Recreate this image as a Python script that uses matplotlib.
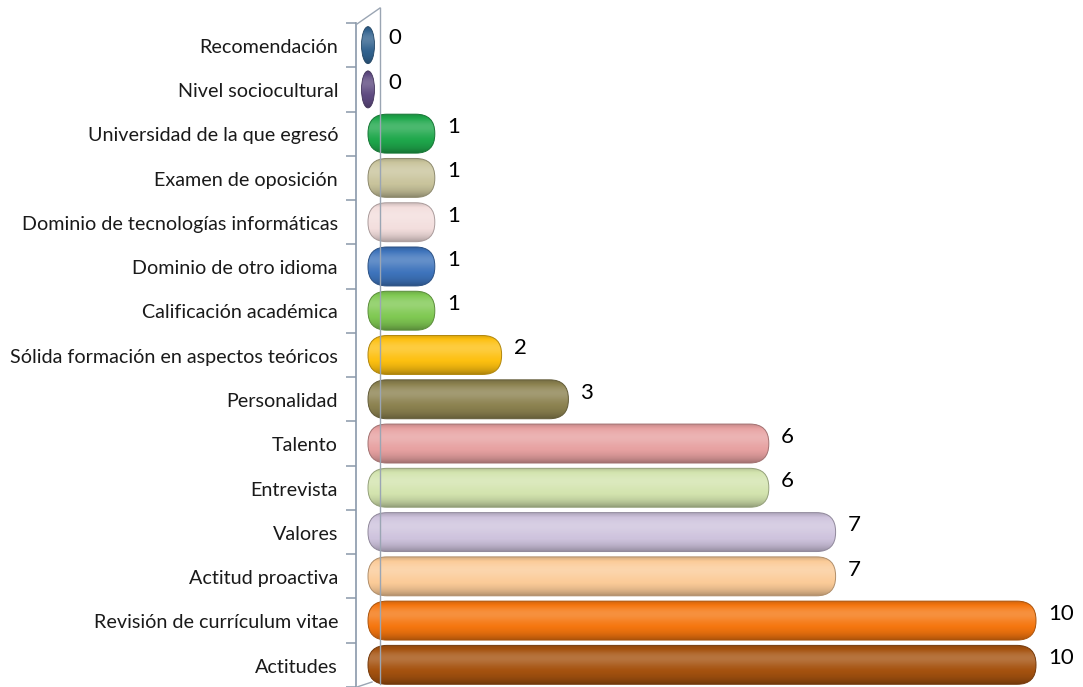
import numpy as np
import matplotlib
matplotlib.use("Agg")
import matplotlib.pyplot as plt
from matplotlib.patches import FancyBboxPatch, Ellipse
from matplotlib.lines import Line2D
from matplotlib.colors import to_rgb

categories = ["Recomendación", "Nivel sociocultural", "Universidad de la que egresó",
              "Examen de oposición", "Dominio de tecnologías informáticas",
              "Dominio de otro idioma", "Calificación académica",
              "Sólida formación en aspectos teóricos", "Personalidad", "Talento",
              "Entrevista", "Valores", "Actitud proactiva",
              "Revisión de currículum vitae", "Actitudes"]
values = [0, 0, 1, 1, 1, 1, 1, 2, 3, 6, 6, 7, 7, 10, 10]
colors = ["#31628E", "#5E4A80", "#1FA84C", "#C9C49C", "#F3DEDD", "#3E74BC",
          "#80C953", "#FDC010", "#8C8250", "#E7A1A1", "#D3E4AE", "#CEC3DD",
          "#FBCB98", "#F5760F", "#A5520F"]

W, H = 1083, 687
fig = plt.figure(figsize=(W / 100, H / 100), dpi=100)
zero_px, x_end_px = 368, 1083
px_x = 66.8
xmin = -8 / px_x
xmax = (x_end_px - zero_px) / px_x
ax = fig.add_axes([(zero_px - 8) / W, 0, (x_end_px - zero_px + 8) / W, 664 / H])
n = len(categories)
ax.set_xlim(xmin, xmax)
ax.set_ylim(n - 0.5, -0.5)
for s in ["top", "right", "bottom"]:
    ax.spines[s].set_visible(False)
ax.spines["left"].set_position(("outward", 3))
ax.spines["left"].set_color("#8A98AA")
ax.spines["left"].set_linewidth(1.2)
ax.set_xticks([])
ax.set_yticks(np.arange(-0.5, n, 1.0))
ax.set_yticklabels([])
ax.tick_params(axis="y", length=7, color="#8A98AA", width=1.1, direction="out")

px_y = 664 / n
bar_h = 0.88
r_px = 19
aspect = px_x / px_y
fam = ["Lato", "DejaVu Sans"]


def shade(c, t):
    base = np.array(to_rgb(c))
    f = 0.2 * np.exp(-((t - 0.32) / 0.22) ** 2) - 0.3 * (np.abs(t - 0.45) / 0.55) ** 3
    out = np.where(f[:, None] > 0, base + (1 - base) * f[:, None], base * (1 + f[:, None]))
    return np.clip(out, 0, 1)


t = np.linspace(0, 1, 64)
for i, (cat, v, c) in enumerate(zip(categories, values, colors)):
    y = i
    if v == 0:
        patch = Ellipse((v, y), 13 / px_x, bar_h * 0.95, facecolor="none",
                        edgecolor=np.array(to_rgb(c)) * 0.7, lw=0.6, zorder=3)
        ext = [-7 / px_x, 7 / px_x, y + bar_h / 2, y - bar_h / 2]
    else:
        patch = FancyBboxPatch((0, y - bar_h / 2), v, bar_h,
                               boxstyle=f"round,pad=0,rounding_size={r_px / px_x}",
                               mutation_aspect=aspect, facecolor="none",
                               edgecolor=np.array(to_rgb(c)) * 0.7, lw=0.7, zorder=3)
        ext = [0, v, y + bar_h / 2, y - bar_h / 2]
    ax.add_patch(patch)
    img = shade(c, t)[:, None, :]
    im = ax.imshow(img, extent=ext, aspect="auto", interpolation="bilinear",
                   zorder=2, origin="upper")
    im.set_clip_path(patch)
    ax.text(max(v, 0.12) + 12 / px_x, y - 0.15, str(v), va="center", ha="left",
            fontsize=16, family=fam, color="black")
    ax.text(-30 / px_x, y + 0.05, cat, va="center", ha="right", fontsize=14.2,
            family=fam, color="#1a1a1a", clip_on=False)

ax.set_xlim(xmin, xmax)
ax.set_ylim(n - 0.5, -0.5)


def P(x, y):
    return (x / W, 1 - y / H)


axcol = "#9AA5B3"
lines = [
    [P(357, 24), P(380, 8)],
    [P(380, 8), P(380, 684)],
    [P(357, 687), P(372, 682)],
]
for seg in lines:
    (xa, ya), (xb, yb) = seg
    fig.add_artist(Line2D([xa, xb], [ya, yb], transform=fig.transFigure,
                          color=axcol, lw=1.0, zorder=1))

fig.savefig("out.png", dpi=100)
